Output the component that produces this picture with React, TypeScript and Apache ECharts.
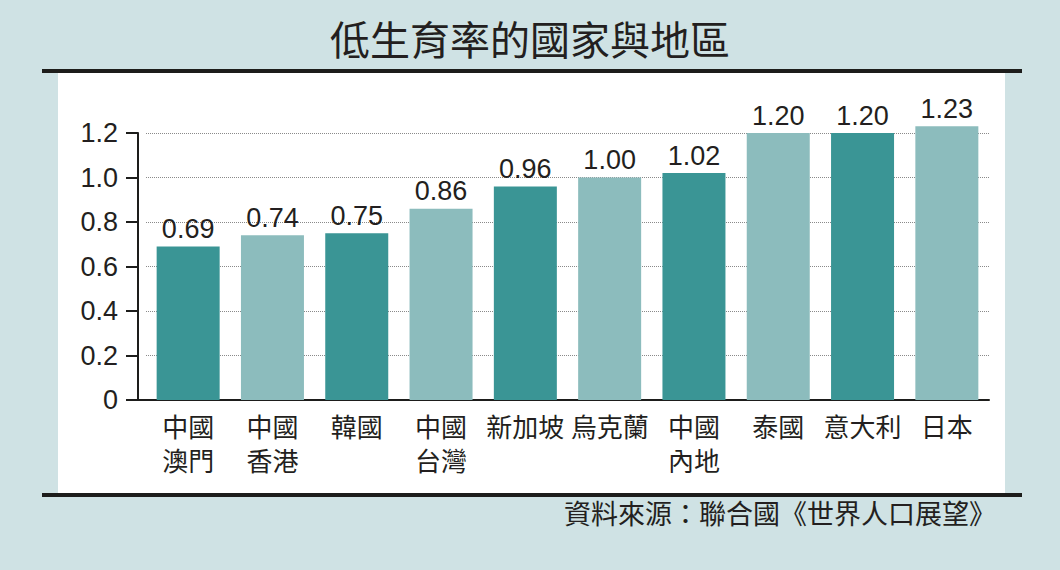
import React, { useEffect, useRef } from "react";
import * as echarts from "echarts";

const categories = ["中國\n澳門", "中國\n香港", "韓國", "中國\n台灣", "新加坡", "烏克蘭", "中國\n內地", "泰國", "意大利", "日本"];
const values = [0.69, 0.74, 0.75, 0.86, 0.96, 1.0, 1.02, 1.2, 1.2, 1.23];
const valueLabels = ["0.69", "0.74", "0.75", "0.86", "0.96", "1.00", "1.02", "1.20", "1.20", "1.23"];
const barShade = ["dark", "light", "dark", "light", "dark", "light", "dark", "light", "dark", "light"];
const yTicks = [0, 0.2, 0.4, 0.6, 0.8, 1.0, 1.2];
const titleText = "低生育率的國家與地區";
const sourceText = "資料來源：聯合國《世界人口展望》";

const DARK = "#3a9595";
const LIGHT = "#8cbcbd";
const INK = "#231f20";
const CJK = '"Noto Sans CJK TC", "Noto Sans CJK SC", sans-serif';
const NUM = '"Liberation Sans", Arial, sans-serif';

export default function App() {
  const ref = useRef<HTMLDivElement>(null);
  useEffect(() => {
    if (!ref.current) return;
    const chart = echarts.init(ref.current, null, { renderer: "svg" });
    const gridLeft = 146;
    const gridTop = 133;
    const gridBottomY = 400;
    chart.setOption({
      animation: false,
      backgroundColor: "#cfe2e4",
      grid: { left: gridLeft, right: 71, top: gridTop, bottom: 570 - gridBottomY, containLabel: false },
      graphic: [
        { type: "rect", z: -10, shape: { x: 58, y: 72, width: 947, height: 421 }, style: { fill: "#ffffff" } },
        { type: "rect", z: -5, shape: { x: 42, y: 69, width: 980, height: 4 }, style: { fill: "#1d1d1b" } },
        { type: "rect", z: -5, shape: { x: 42, y: 493, width: 980, height: 4 }, style: { fill: "#1d1d1b" } },
        { type: "line", z: 10, shape: { x1: 126, y1: gridBottomY, x2: gridLeft + 1, y2: gridBottomY }, style: { stroke: "#1d1d1b", lineWidth: 2 } },
        {
          type: "text", left: "center", top: 18,
          style: { text: titleText, font: `40px ${CJK}`, fill: INK },
        },
        {
          type: "text", right: 64, top: 499,
          style: { text: sourceText, font: `27px ${CJK}`, fill: INK },
        },
      ],
      xAxis: {
        type: "category",
        data: categories,
        axisLine: { show: true, lineStyle: { color: "#1d1d1b", width: 2 } },
        axisTick: { show: false },
        axisLabel: { color: INK, fontSize: 26, fontFamily: CJK, lineHeight: 34, margin: 8, interval: 0 },
        splitLine: { show: false },
      },
      yAxis: {
        type: "value",
        min: 0,
        max: 1.2,
        interval: 0.2,
        offset: 8,
        axisLine: { show: true, lineStyle: { color: "#1d1d1b", width: 2 } },
        axisTick: { show: true, length: 12, lineStyle: { color: "#1d1d1b", width: 2 } },
        axisLabel: {
          color: INK, fontSize: 27, fontFamily: NUM, margin: 20,
          formatter: (v: number) => (yTicks.indexOf(Number(v.toFixed(1))) >= 0 ? (v === 0 ? "0" : v.toFixed(1)) : ""),
        },
        splitLine: { show: true, lineStyle: { color: "#8a8a8a", type: "dotted", width: 1 } },
      },
      series: [
        {
          type: "bar",
          barWidth: 63,
          clip: false,
          data: values.map((v, i) => ({
            value: v,
            itemStyle: { color: barShade[i] === "dark" ? DARK : LIGHT },
          })),
          label: {
            show: true,
            position: "top",
            distance: 4,
            color: INK,
            fontSize: 27,
            fontFamily: NUM,
            formatter: (p: any) => valueLabels[p.dataIndex],
          },
        },
      ],
    });
    return () => chart.dispose();
  }, []);
  return <div ref={ref} style={{ position: "fixed", left: 0, top: 0, width: 1060, height: 570 }} />;
}
